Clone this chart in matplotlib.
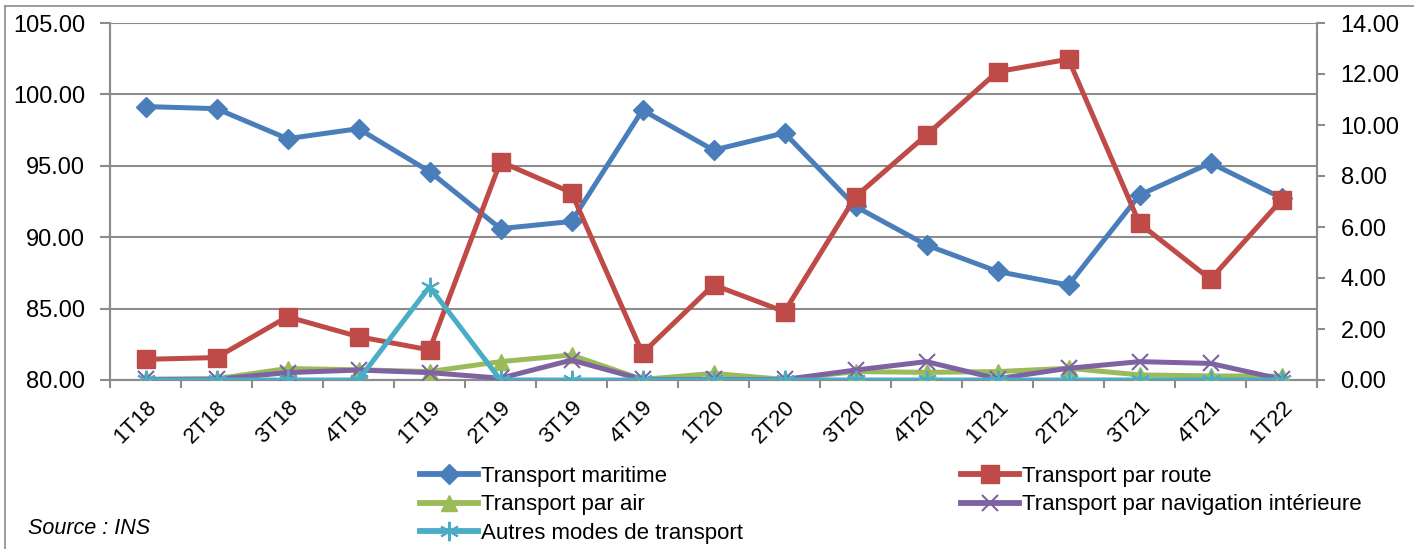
import matplotlib

matplotlib.use("Agg")
import matplotlib.pyplot as plt
from matplotlib.lines import Line2D

plt.rcParams["font.family"] = ["Liberation Sans", "DejaVu Sans"]

quarters = ["1T18", "2T18", "3T18", "4T18", "1T19", "2T19", "3T19", "4T19", "1T20",
            "2T20", "3T20", "4T20", "1T21", "2T21", "3T21", "4T21", "1T22"]

# left axis
maritime = [99.15, 99.0, 96.9, 97.6, 94.6, 90.6, 91.1, 98.9, 96.1, 97.3, 92.15, 89.45,
            87.6, 86.65, 92.95, 95.2, 92.75]
# right axis
route = [0.81, 0.88, 2.48, 1.70, 1.18, 8.56, 7.35, 1.05, 3.73, 2.68, 7.19, 9.61,
         12.09, 12.58, 6.14, 3.95, 7.06]
air = [0.03, 0.05, 0.45, 0.40, 0.33, 0.72, 0.98, 0.02, 0.26, 0.02, 0.33, 0.30,
       0.33, 0.46, 0.20, 0.16, 0.15]
navigation = [0.02, 0.03, 0.29, 0.39, 0.29, 0.07, 0.78, 0.02, 0.02, 0.02, 0.39, 0.72,
              0.05, 0.46, 0.72, 0.65, 0.03]
autres = [0.0, 0.0, 0.0, 0.0, 3.66, 0.0, 0.0, 0.0, 0.0, 0.0, 0.0, 0.0,
          0.0, 0.0, 0.0, 0.0, 0.0]

BLUE = "#4A7EBB"
RED = "#BE4B48"
GREEN = "#9BBB59"
PURPLE = "#7F62A1"
CYAN = "#4BACC6"
GRID = "#8C8C8C"

W, H = 1414, 549
fig = plt.figure(figsize=(W / 100, H / 100), dpi=100)
ax = fig.add_axes([110 / W, 1 - 380 / H, (1317 - 110) / W, (380 - 23) / H])
ax2 = ax.twinx()

x = list(range(len(quarters)))
lw = 3.6

ax.plot(x, maritime, color=BLUE, lw=lw, marker="D", ms=10, zorder=3)

ax2.plot(x, route, color=RED, lw=lw, marker="s", ms=12.5, zorder=3)
ax2.plot(x, air, color=GREEN, lw=lw, marker="^", ms=11, zorder=3)
ax2.plot(x, navigation, color=PURPLE, lw=lw, marker="x", ms=11, mew=1.5, zorder=3)
ax2.plot(x, autres, color=CYAN, lw=lw, marker=(6, 2, 0), ms=14, mew=1.5, zorder=3)

ax.set_xlim(-0.5, len(quarters) - 0.5)
ax.set_ylim(80, 105)
ax.set_yticks(range(80, 106, 5))
ax.set_yticklabels([f"{v:.2f}" for v in range(80, 106, 5)])
ax2.set_ylim(0, 14)
ax2.set_yticks(range(0, 15, 2))
ax2.set_yticklabels([f"{v:.2f}" for v in range(0, 15, 2)])

ax.yaxis.grid(True, color=GRID, lw=1.5)
ax.set_axisbelow(True)

ax.set_xticks(x)
ax.set_xticklabels(quarters, rotation=45, ha="right", rotation_mode="anchor", fontsize=16)
ax.set_xticks([i - 0.5 for i in range(len(quarters) + 1)], minor=True)
ax.tick_params(axis="x", which="major", length=0, pad=12)
ax.tick_params(axis="x", which="minor", length=6, width=1.5, color=GRID)
ax.tick_params(axis="y", length=7, width=1.5, color=GRID, labelsize=17, pad=11)
ax2.tick_params(axis="y", length=6, width=1.5, color=GRID, labelsize=17, pad=11)

for a in (ax, ax2):
    a.spines["top"].set_visible(False)
    for s in ("left", "right", "bottom"):
        a.spines[s].set_color(GRID)
        a.spines[s].set_linewidth(1.5)

# legend in Excel order: row-major with 2 columns
handles = [
    Line2D([], [], color=BLUE, lw=lw + 0.6, marker="D", ms=10),
    Line2D([], [], color=GREEN, lw=lw + 0.6, marker="^", ms=11),
    Line2D([], [], color=CYAN, lw=lw + 0.6, marker=(6, 2, 0), ms=14, mew=1.5),
    Line2D([], [], color=RED, lw=lw + 0.6, marker="s", ms=12.5),
    Line2D([], [], color=PURPLE, lw=lw + 0.6, marker="x", ms=11, mew=1.5),
]
labels = ["Transport maritime", "Transport par air", "Autres modes de transport",
          "Transport par route", "Transport par navigation intérieure"]
fig.legend(handles, labels, ncol=2, loc="upper left", bbox_to_anchor=(420 / W, 1 - 466 / H),
           frameon=False, fontsize=16, handlelength=2.6, handletextpad=0.15,
           columnspacing=9.8, labelspacing=0.33, borderpad=0, borderaxespad=0)

fig.text(28 / W, 1 - 528 / H, "Source : INS", fontsize=15.5, style="italic", va="center")

# chart-area frame
fig.add_artist(Line2D([5 / W, 5 / W], [0, 1 - 6 / H], color=GRID, lw=1.2))
fig.add_artist(Line2D([5 / W, 1], [1 - 6 / H, 1 - 6 / H], color=GRID, lw=1.2))

fig.savefig("out.png", dpi=100)
